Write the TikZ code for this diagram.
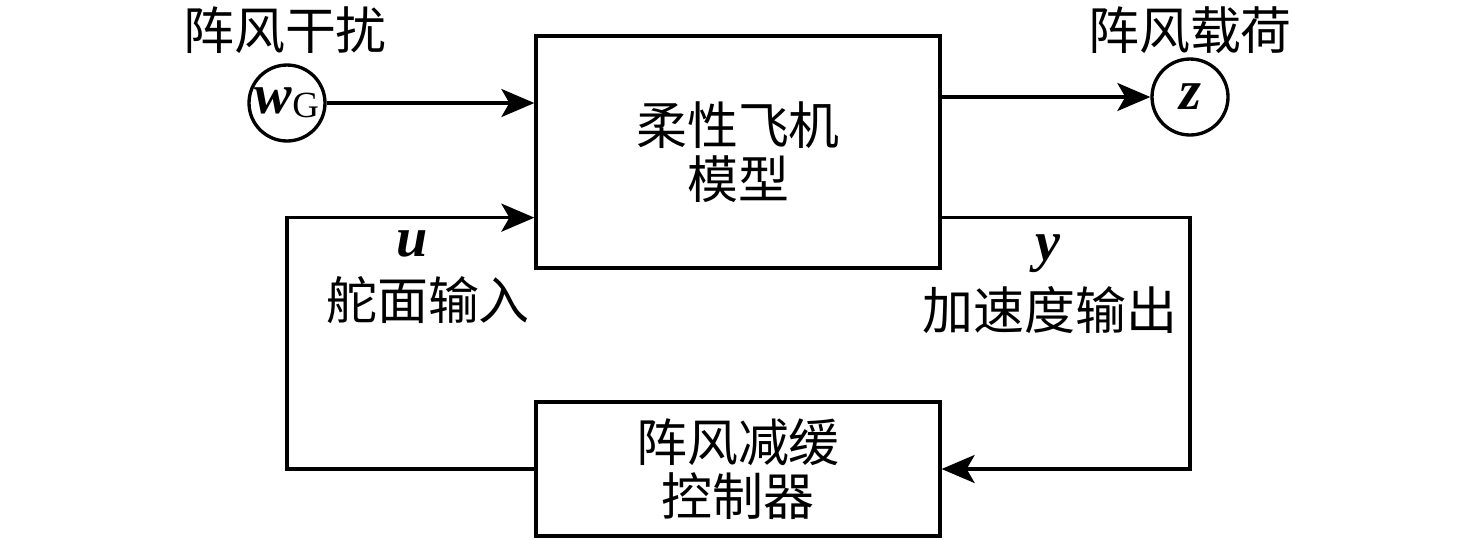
\documentclass[tikz,border=0pt]{standalone}
\usepackage{fontspec}
\setmainfont{Liberation Serif}
\newfontfamily\cjk{Noto Sans CJK SC}
\usetikzlibrary{arrows.meta}

\newcommand\gusttextstyle{\fontsize{29}{31}\selectfont\cjk}
\newcommand\gustsymstyle{\fontsize{32}{32}\selectfont\bfseries\itshape}
\newcommand\gustsubstyle{\fontsize{21}{21}\selectfont}
\tikzset{
  gustblock/.style={draw, line width=1.9pt, minimum width=8.08cm, align=center, font=\gusttextstyle},
  gustsignal/.style={draw, circle, line width=1.9pt, minimum size=1.52cm, inner sep=0pt},
  gustwire/.style={line width=1.9pt, -{Stealth[length=0.66cm, width=0.56cm, inset=0.16cm]}},
}

\begin{document}
\begin{tikzpicture}[x=0.02cm, y=-0.02cm]
    \useasboundingbox (0,0) rectangle (1476,539);
    % blocks
    \node[gustblock, minimum height=4.64cm] (plant) at (738,152) {柔性飞机\\模型};
    \node[gustblock, minimum height=2.68cm] (ctrl) at (738,469) {阵风减缓\\控制器};
    % signals
    \node[gustsignal] (wg) at (287,103) {{\gustsymstyle w}\raisebox{-0.45ex}{\gustsubstyle G}};
    \node[gustsignal] (z) at (1190,97) {\gustsymstyle z};
    \node[font=\gusttextstyle] (wgname) at (285,30) {阵风干扰};
    \node[font=\gusttextstyle] (zname) at (1190,30) {阵风载荷};
    % loop taps
    \coordinate (utap) at ([yshift=1.04cm]plant.south west);
    \coordinate (ytap) at ([yshift=1.04cm]plant.south east);
    \node[font=\gustsymstyle] (u) at (412,244) {u};
    \node[font=\gusttextstyle] (uname) at (428,300) {舵面输入};
    \node[font=\gustsymstyle] (y) at (1048,254) {y};
    \node[font=\gusttextstyle] (yname) at (1050,310) {加速度输出};
    % wires
    \draw[gustwire] (wg) -- (wg -| plant.west);
    \draw[gustwire] (plant.east |- z) -- (z);
    \draw[gustwire] (ytap) -- (ytap -| z) |- (ctrl.east);
    \draw[gustwire] (ctrl.west) -- (ctrl.west -| wg) |- (utap);
\end{tikzpicture}
\end{document}
